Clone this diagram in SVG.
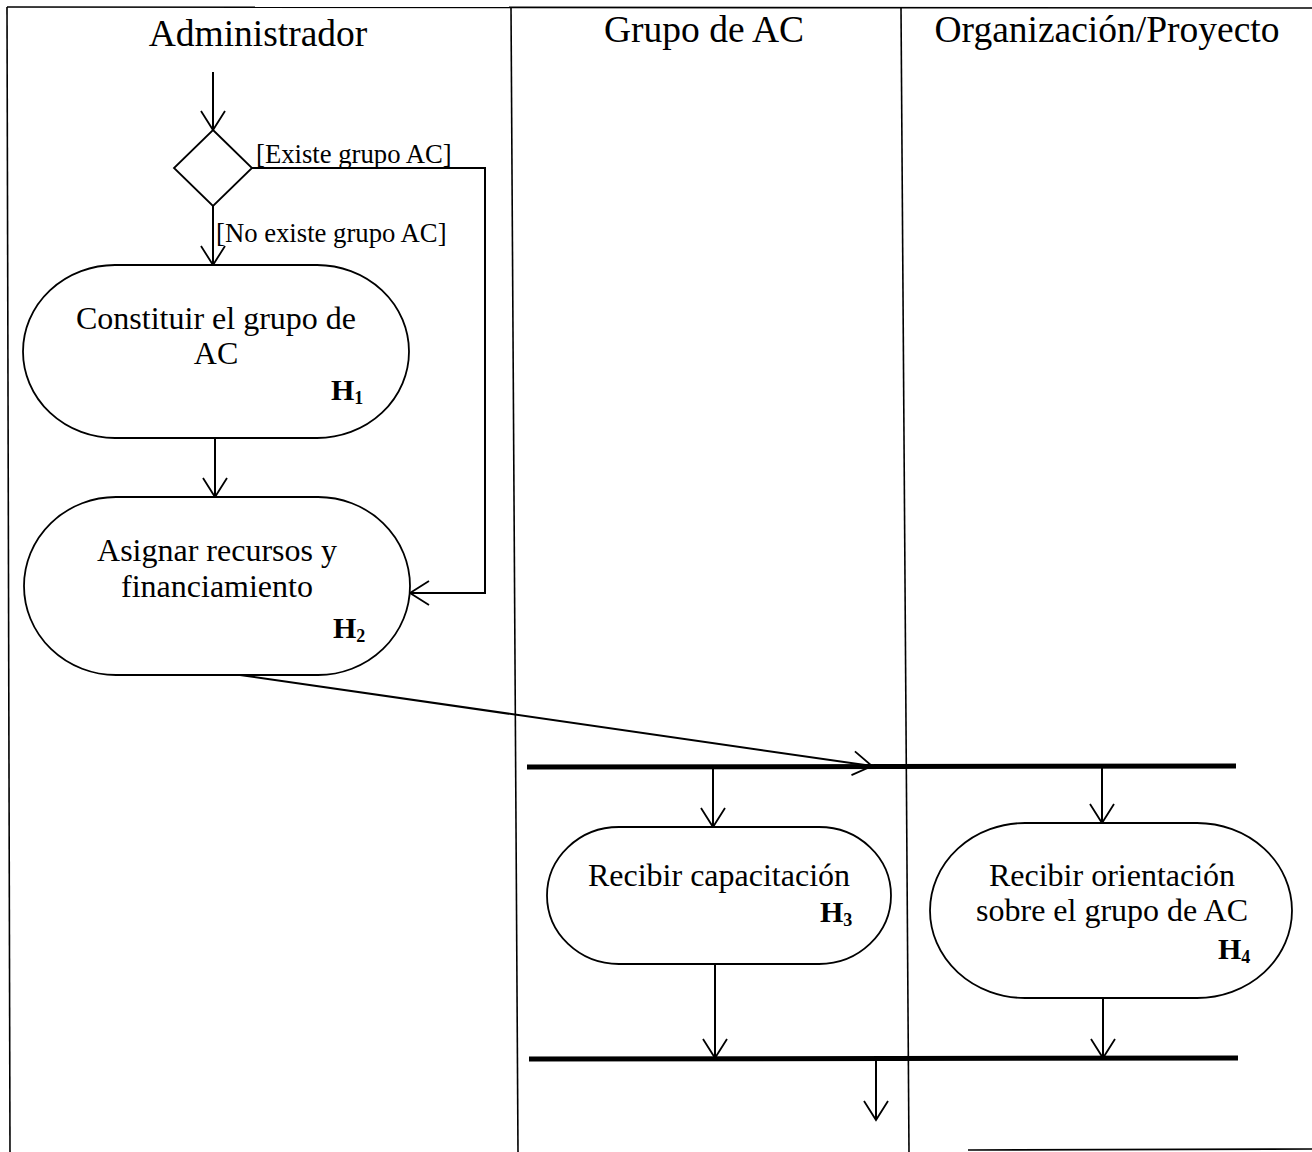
<svg xmlns="http://www.w3.org/2000/svg" width="1312" height="1152" viewBox="0 0 1312 1152">
  <style>
    .lane { stroke: #000; stroke-width: 1.6; fill: none; }
    .title { font-family: "Liberation Serif", "Times New Roman", serif; font-size: 37.5px; fill: #000; text-anchor: middle; }
    .act { fill: #fff; stroke: #000; stroke-width: 1.8; }
    .txt { font-family: "Liberation Serif", "Times New Roman", serif; font-size: 32px; fill: #000; text-anchor: middle; }
    .tag { font-family: "Liberation Serif", "Times New Roman", serif; font-size: 30px; font-weight: bold; fill: #000; }
    .sub { font-size: 18px; }
    .guard { font-family: "Liberation Serif", "Times New Roman", serif; font-size: 26.7px; fill: #000; }
    .flow { stroke: #000; stroke-width: 2; fill: none; marker-end: url(#open); }
    .bar { stroke: #000; stroke-width: 5; fill: none; }
  </style>
  <defs>
    <marker id="open" markerUnits="userSpaceOnUse" viewBox="0 0 22 26" markerWidth="22" markerHeight="26" refX="20" refY="13" orient="auto">
      <path d="M1,1 L20,13 L1,25" fill="none" stroke="#000" stroke-width="1.8"/>
    </marker>
  </defs>

  <rect width="1312" height="1152" fill="#fff"/>

  <!-- swimlane frame -->
  <g id="lanes">
    <path class="lane" d="M7,7 L1312,8"/>
    <path class="lane" d="M7,7 L10,1152"/>
    <path class="lane" d="M511,7 L518,1152"/>
    <path class="lane" d="M901,8 L909,1152"/>
    <path class="lane" d="M968,1150 L1312,1149"/>
    <text class="title" x="258" y="46">Administrador</text>
    <text class="title" x="704" y="42">Grupo de AC</text>
    <text class="title" x="1107" y="42">Organización/Proyecto</text>
  </g>

  <!-- connectors -->
  <g id="connectors">
    <path class="flow" d="M213,72 V130"/>
    <path class="flow" d="M213,206 V265"/>
    <path class="flow" d="M252,168 H485 V593 H410"/>
    <path class="flow" d="M215,438 V497"/>
    <path class="flow" d="M240,675 L872,766"/>
    <path class="flow" d="M713,768 V827"/>
    <path class="flow" d="M1102,768 V823"/>
    <path class="flow" d="M715,964 V1058"/>
    <path class="flow" d="M1103,998 V1058"/>
    <path class="flow" d="M876,1060 V1120"/>
    <text class="guard" x="256" y="163">[Existe grupo AC]</text>
    <text class="guard" x="216" y="242">[No existe grupo AC]</text>
  </g>

  <!-- decision -->
  <g id="decision">
    <path class="act" d="M213,130 L252,168 L213,206 L174,168 Z"/>
  </g>

  <!-- fork / join bars -->
  <g id="fork">
    <path class="bar" d="M527,767 L1236,766"/>
  </g>
  <g id="join">
    <path class="bar" d="M529,1059 L1238,1058"/>
  </g>

  <!-- activities -->
  <g id="h1">
    <rect class="act" x="23" y="265" width="386" height="173" rx="92" ry="86.5"/>
    <text class="txt" x="216" y="329">Constituir el grupo de</text>
    <text class="txt" x="216" y="364">AC</text>
    <text class="tag" x="331" y="400">H<tspan class="sub" dy="4">1</tspan></text>
  </g>
  <g id="h2">
    <rect class="act" x="24" y="497" width="386" height="178" rx="92" ry="89"/>
    <text class="txt" x="217" y="561">Asignar recursos y</text>
    <text class="txt" x="217" y="597">financiamiento</text>
    <text class="tag" x="333" y="638">H<tspan class="sub" dy="4">2</tspan></text>
  </g>
  <g id="h3">
    <rect class="act" x="547" y="827" width="344" height="137" rx="72" ry="68.5"/>
    <text class="txt" x="719" y="886">Recibir capacitación</text>
    <text class="tag" x="820" y="922">H<tspan class="sub" dy="4">3</tspan></text>
  </g>
  <g id="h4">
    <rect class="act" x="930" y="823" width="362" height="175" rx="95" ry="87.5"/>
    <text class="txt" x="1112" y="886">Recibir orientación</text>
    <text class="txt" x="1112" y="921">sobre el grupo de AC</text>
    <text class="tag" x="1218" y="959">H<tspan class="sub" dy="4">4</tspan></text>
  </g>
</svg>
